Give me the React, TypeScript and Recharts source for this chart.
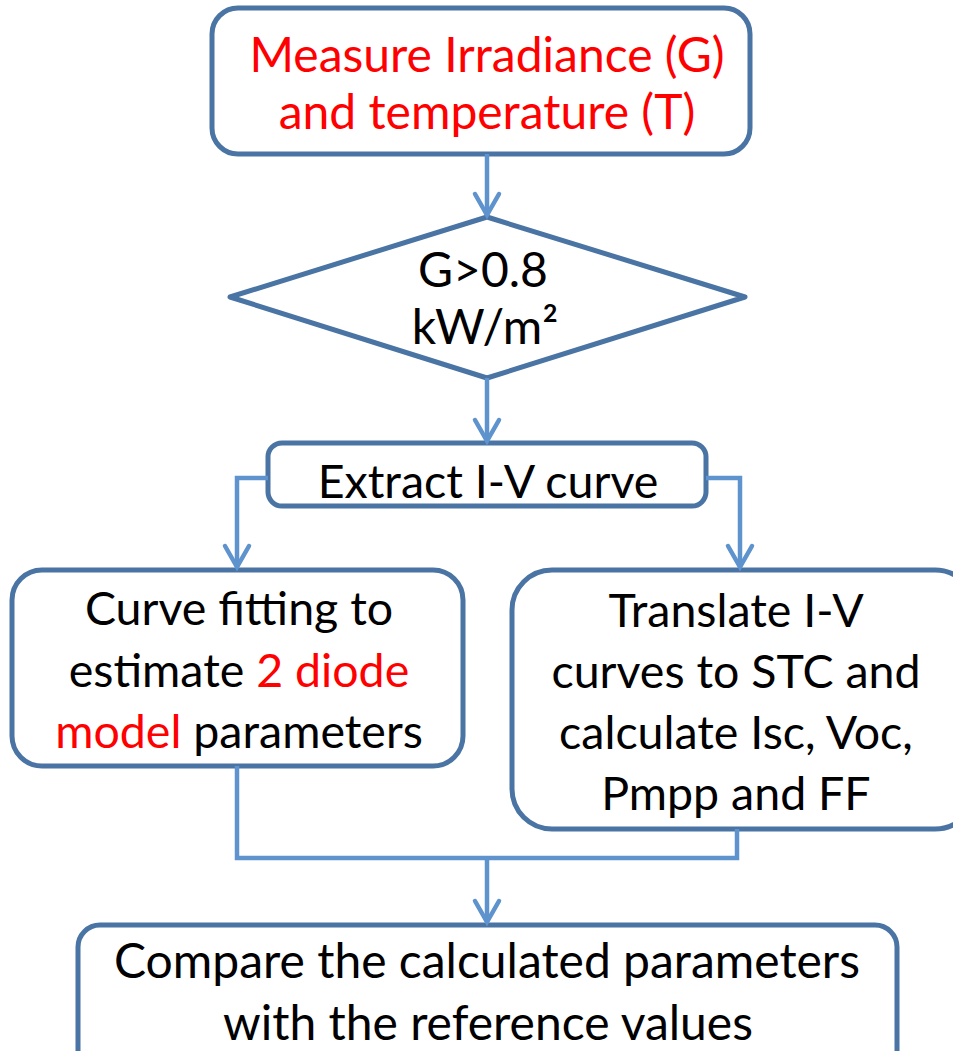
import React from 'react';
import { ComposedChart, XAxis, YAxis, Line, Scatter, ReferenceArea } from 'recharts';

const W = 953;
const H = 1051;
const BORDER = '#4a74a3';
const ARROW = '#5e93cd';
const RED = '#ff0000';
const FONT = 'Lato, "Open Sans", sans-serif';

// process boxes, in picture pixels
const boxes = [
  { id: 'measure', x1: 212, x2: 750, y1: 8, y2: 154, r: 26 },
  { id: 'extract', x1: 268, x2: 706, y1: 443, y2: 506, r: 14 },
  { id: 'fit', x1: 12, x2: 463, y1: 570, y2: 766, r: 30 },
  { id: 'translate', x1: 512, x2: 975, y1: 570, y2: 829, r: 40 },
  { id: 'compare', x1: 78, x2: 897, y1: 925, y2: 1075, r: 22 },
];

// decision diamond corners (closed, plus one extra to get a clean join)
const diamond = [
  { x: 230, y: 297 },
  { x: 487, y: 217 },
  { x: 745, y: 297 },
  { x: 487, y: 378 },
  { x: 230, y: 297 },
  { x: 487, y: 217 },
];

const conn1 = [{ x: 487, y: 154 }, { x: 487, y: 215 }];
const conn2 = [{ x: 487, y: 378 }, { x: 487, y: 441 }];
const conn3 = [{ x: 268, y: 478 }, { x: 237, y: 478 }, { x: 237, y: 567 }];
const conn4 = [{ x: 706, y: 478 }, { x: 740, y: 478 }, { x: 740, y: 567 }];
const conn5 = [{ x: 237, y: 766 }, { x: 237, y: 858 }, { x: 737, y: 858 }, { x: 737, y: 829 }];
const conn6 = [{ x: 487, y: 858 }, { x: 487, y: 922 }];
const connectors = [conn1, conn2, conn3, conn4, conn5, conn6];

const arrowTips = [
  { x: 487, y: 215 },
  { x: 487, y: 441 },
  { x: 237, y: 567 },
  { x: 740, y: 567 },
  { x: 487, y: 922 },
];

// text lines: [text, highlighted]
const labels = [
  { node: 'measure', x: 487, y: 72, parts: [['Measure Irradiance (G)', true]] },
  { node: 'measure', x: 487, y: 129, parts: [['and temperature (T)', true]] },
  { node: 'decision', x: 483, y: 287, parts: [['G>0.8', false]] },
  { node: 'decision', x: 485, y: 344, parts: [['kW/m²', false]] },
  { node: 'extract', x: 488, y: 498, parts: [['Extract I-V curve', false]] },
  { node: 'fit', x: 239, y: 625, parts: [['Curve fitting to', false]] },
  { node: 'fit', x: 239, y: 687, parts: [['estimate ', false], ['2 diode', true]] },
  { node: 'fit', x: 239, y: 748, parts: [['model', true], [' parameters', false]] },
  { node: 'translate', x: 736, y: 627, parts: [['Translate I-V', false]] },
  { node: 'translate', x: 736, y: 688, parts: [['curves to STC and', false]] },
  { node: 'translate', x: 736, y: 749, parts: [['calculate Isc, Voc,', false]] },
  { node: 'translate', x: 736, y: 810, parts: [['Pmpp and FF', false]] },
  { node: 'compare', x: 487, y: 978, parts: [['Compare the calculated parameters', false]] },
  { node: 'compare', x: 488, y: 1040, parts: [['with the reference values', false]] },
];

const fontSize: Record<string, number> = {
  measure: 48,
  decision: 48,
  extract: 46.5,
  fit: 46.5,
  translate: 46.5,
  compare: 48,
};

function LabelShape(props: any) {
  const { cx, cy, payload } = props;
  return (
    <text
      x={cx}
      y={cy}
      textAnchor="middle"
      fontFamily={FONT}
      fontSize={fontSize[payload.node]}
      style={{ whiteSpace: 'pre' }}
    >
      {payload.parts.map((p: [string, boolean], i: number) => (
        <tspan key={i} fill={p[1] ? RED : '#000'}>{p[0]}</tspan>
      ))}
    </text>
  );
}

function ArrowHead(props: any) {
  const { cx, cy } = props;
  return (
    <path
      d={`M${cx - 12},${cy - 21} L${cx},${cy} L${cx + 12},${cy - 21}`}
      fill="none"
      stroke={ARROW}
      strokeWidth={4.5}
      strokeLinecap="round"
      strokeLinejoin="miter"
    />
  );
}

export default function App() {
  return (
    <div style={{ position: 'absolute', left: 0, top: 0, background: '#fff' }}>
      <ComposedChart width={W} height={H} margin={{ top: 0, right: 0, bottom: 0, left: 0 }}>
        <XAxis type="number" dataKey="x" domain={[0, W]} hide allowDataOverflow />
        <YAxis type="number" domain={[0, H]} reversed hide allowDataOverflow />
        {boxes.map((b) => (
          <ReferenceArea
            key={b.id}
            x1={b.x1}
            x2={b.x2}
            y1={b.y1}
            y2={b.y2}
            radius={b.r}
            fill="none"
            stroke={BORDER}
            strokeWidth={5}
            ifOverflow="visible"
          />
        ))}
        <Line
          data={diamond}
          dataKey="y"
          type="linear"
          stroke={BORDER}
          strokeWidth={5}
          strokeLinejoin="round"
          dot={false}
          activeDot={false}
          isAnimationActive={false}
        />
        {connectors.map((c, i) => (
          <Line
            key={i}
            data={c}
            dataKey="y"
            type="linear"
            stroke={ARROW}
            strokeWidth={4.5}
            dot={false}
            activeDot={false}
            isAnimationActive={false}
          />
        ))}
        <Scatter data={arrowTips} dataKey="y" shape={<ArrowHead />} isAnimationActive={false} />
        <Scatter data={labels} dataKey="y" shape={<LabelShape />} isAnimationActive={false} />
      </ComposedChart>
    </div>
  );
}
